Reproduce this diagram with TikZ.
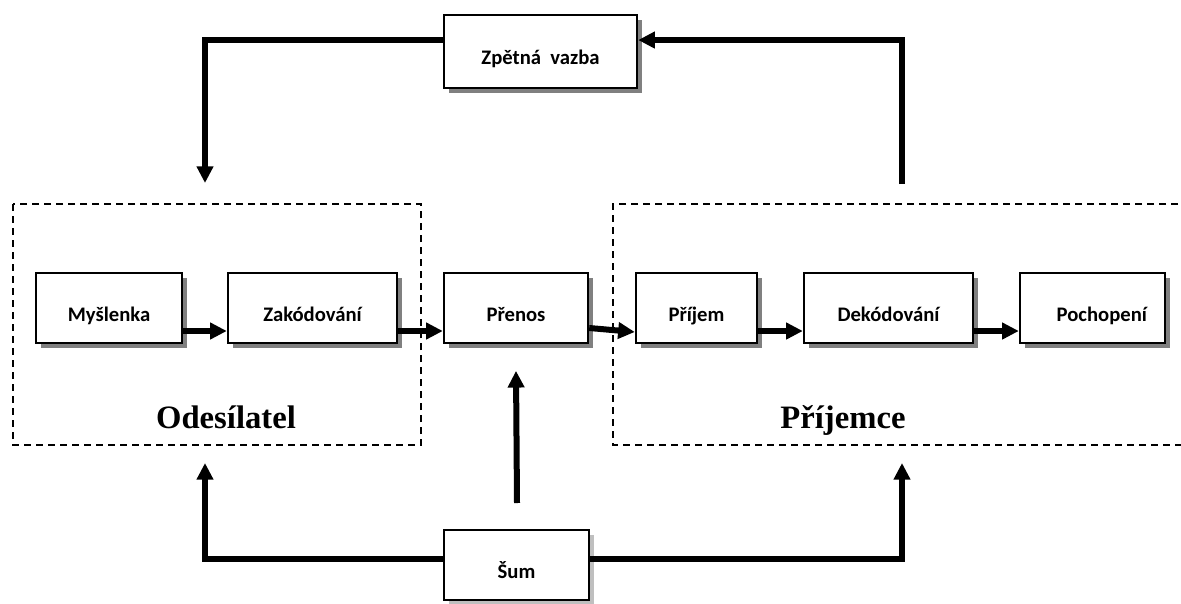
\documentclass[tikz,border=0pt]{standalone}
\usepackage{fontspec}
\setmainfont{Carlito}
\newfontfamily\nazevfont{Liberation Serif}
\usetikzlibrary{arrows.meta}
\usetikzlibrary{shadows}

\tikzset{
  blok/.style={draw, line width=1.8pt, fill=white, minimum height=52.5pt,
    inner sep=0pt, text height=19.5pt, text depth=0pt,
    font=\fontsize{15.5}{18}\selectfont\bfseries,
    drop shadow={shadow xshift=3.75pt, shadow yshift=-3.75pt, fill=black!50, opacity=1}},
  skupina/.style={line width=1.2pt, dash pattern=on 5pt off 4pt},
  nazev/.style={font=\nazevfont\fontsize{24.5}{28}\selectfont\bfseries, inner sep=0pt},
  spoj/.style={line width=4.5pt}
}

\begin{document}
\begin{tikzpicture}[line cap=butt,line join=miter,>={Triangle[length=12.5pt,width=12pt]},x=0.75pt,y=-0.75pt]
\useasboundingbox (0,0) rectangle (1181,603);
%
% odesilatel a prijemce
\draw[skupina] (13,204) rectangle (421,445);
\draw[skupina] (1190,204) -- (613,204) -- (613,445) -- (1190,445);
\node[nazev, anchor=base] (odesilatel) at (226,428) {Odesílatel};
\node[nazev, anchor=base] (prijemce) at (843,428) {Příjemce};
%
% bloky
\node[blok, minimum width=109.5pt] (myslenka) at (109,308) {Myšlenka};
\node[blok, minimum width=126.75pt] (zakodovani) at (312.5,308) {Zakódování};
\node[blok, minimum width=108pt] (prenos) at (516,308) {Přenos};
\node[blok, minimum width=90.75pt] (prijem) at (696.5,308) {Příjem};
\node[blok, minimum width=126.75pt] (dekodovani) at (888.5,308) {Dekódování};
\node[blok, minimum width=108.75pt] (pochopeni) at (1092.5,308) {\hspace*{14pt}Pochopení};
\node[blok, minimum width=144.75pt, minimum height=54.75pt] (zpetna) at (540.5,51.5) {Zpětná\ \ vazba};
\node[blok, minimum width=108.75pt,
  drop shadow={shadow xshift=3.75pt, shadow yshift=-3.75pt, fill=black!25, opacity=1}] (sum) at (516.5,565) {Šum};
%
% volne konce
\coordinate (fbP) at (902,184);
\coordinate (fbL) at (205,183);
\coordinate (sumL) at (205,463);
\coordinate (sumP) at (902,463);
\coordinate (sumN) at (517,503);
%
% spojnice v radku
\draw[spoj,->] ([yshift=-17.25pt]myslenka.east) -- ([yshift=-17.25pt]zakodovani.west);
\draw[spoj,->] ([yshift=-17.25pt]zakodovani.east) -- ([yshift=-17.25pt]prenos.west);
\draw[spoj,->] ([yshift=-15pt]prenos.east) -- ([yshift=-18pt]prijem.west);
\draw[spoj,->] ([yshift=-17.25pt]prijem.east) -- ([yshift=-17.25pt]dekodovani.west);
\draw[spoj,->] ([yshift=-17.25pt]dekodovani.east) -- ([yshift=-17.25pt]pochopeni.west);
%
% zpetna vazba
\draw[spoj,->] (fbP) |- ([yshift=8.6pt]zpetna.east);
\draw[spoj,->] ([yshift=8.6pt]zpetna.west) -| (fbL);
%
% sum
\draw[spoj,->] ([yshift=4.5pt]sum.west) -| (sumL);
\draw[spoj,->] ([yshift=4.5pt]sum.east) -| (sumP);
\draw[spoj,->] (sumN) -- ([yshift=-20pt]prenos.south);
\end{tikzpicture}
\end{document}
